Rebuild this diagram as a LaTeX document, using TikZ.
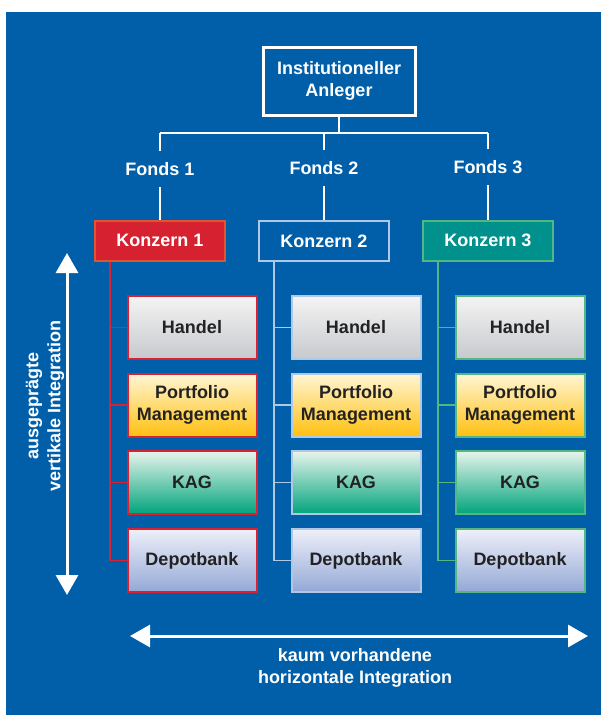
\documentclass[tikz,border=0pt]{standalone}
\usepackage{fontspec}
\setmainfont{Liberation Sans}
\usetikzlibrary{arrows.meta,calc}

\definecolor{bgblue}{HTML}{005FA8}
\definecolor{redfill}{HTML}{D52130}
\definecolor{redrim}{HTML}{E2542E}
\definecolor{redline}{HTML}{D82234}
\definecolor{paleblue}{HTML}{AFC8E6}
\definecolor{tealfill}{HTML}{00918D}
\definecolor{greenrim}{HTML}{55B682}
\definecolor{boxtext}{HTML}{222222}
\definecolor{greytop}{HTML}{F4F4F4}
\definecolor{greymid}{HTML}{DCDCDE}
\definecolor{greybot}{HTML}{C8C9CD}
\definecolor{goldtop}{HTML}{FFF6D6}
\definecolor{goldmid}{HTML}{FFCC30}
\definecolor{goldbot}{HTML}{FFC010}
\definecolor{greentop}{HTML}{E8F4EC}
\definecolor{greenmid}{HTML}{00A47C}
\definecolor{lilactop}{HTML}{EEF0FA}
\definecolor{lilacmid}{HTML}{BCC6E6}
\definecolor{lilacbot}{HTML}{94A8D6}

\begin{document}
\begin{tikzpicture}[x=1pt,y=-1pt,
  every node/.style={font=\fontsize{18}{22}\selectfont\bfseries, align=center},
  wire/.style={draw=white, line width=2pt},
  topbox/.style={draw=white, line width=3pt, minimum width=152pt, minimum height=68pt, text=white},
  fondslabel/.style={text=white, inner sep=0pt, minimum height=36pt, minimum width=70pt},
  konzern/.style={line width=2pt, minimum width=130pt, minimum height=40pt, text=white, inner sep=0pt},
  unit/.style={line width=2pt, minimum width=129pt, minimum height=63pt, text=boxtext, inner sep=0pt, shading=axis},
  handel/.style={unit, top color=greytop, middle color=greymid, bottom color=greybot},
  portfolio/.style={unit, top color=goldtop, middle color=goldmid, bottom color=goldbot},
  kag/.style={unit, top color=greentop, middle color=greenmid, bottom color=greenmid},
  depot/.style={unit, top color=lilactop, middle color=lilacmid, bottom color=lilacbot},
  spine/.style={line width=1.5pt},
  bigarrow/.style={draw=white, line width=3pt, {Triangle[width=22pt,length=20pt]}-{Triangle[width=22pt,length=20pt]}},
  axislabel/.style={text=white, font=\fontsize{18}{22}\selectfont\bfseries}
]
  % page and blue panel
  \useasboundingbox (0,0) rectangle (601,715);
  \fill[white] (0,0) rectangle (601,715);
  \fill[bgblue] (6,12) rectangle (601,715);

  % investor and fund level
  \node[topbox] (top) at (339,81) {Institutioneller\\Anleger};
  \coordinate (hub) at (339,133);
  \coordinate (f1) at (160,133);
  \coordinate (f2) at (324,133);
  \coordinate (f3) at (488,133);
  \node[fondslabel] (fonds1) at (160,169) {Fonds 1};
  \node[fondslabel] (fonds2) at (324,168) {Fonds 2};
  \node[fondslabel] (fonds3) at (488,167) {Fonds 3};

  % groups
  \node[konzern, fill=redfill, draw=redrim] (k1) at (160,240.5) {Konzern 1};
  \node[konzern, fill=bgblue, draw=paleblue] (k2) at (324,241) {Konzern 2};
  \node[konzern, fill=tealfill, draw=greenrim] (k3) at (488,240.5) {Konzern 3};

  \draw[wire] (top.south) -- (hub);
  \draw[wire] (f1) -- (f3);
  \foreach \i in {1,2,3} {
    \draw[wire] (f\i) -- (fonds\i.north);
    \draw[wire] (fonds\i.south) -- (k\i.north);
  }

  % business units per group
  \foreach \c/\rim in {1/redline,2/paleblue,3/greenrim} {
    \pgfmathsetmacro{\cx}{192+164*(\c-1)}
    \node[handel, draw=\rim] (h\c) at (\cx,327.5) {Handel};
    \node[portfolio, draw=\rim] (p\c) at (\cx,405) {Portfolio\\Management};
    \node[kag, draw=\rim] (g\c) at (\cx,482.5) {KAG};
    \node[depot, draw=\rim] (d\c) at (\cx,560.5) {Depotbank};
    \coordinate (s\c) at ($(k\c.south west)+(16,0)$);
    \draw[spine, draw=\rim] (s\c) |- (d\c.west);
    \draw[spine, draw=\rim] (h\c.west) -- (h\c.west -| s\c);
    \draw[spine, draw=\rim] (p\c.west) -- (p\c.west -| s\c);
    \draw[spine, draw=\rim] (g\c.west) -- (g\c.west -| s\c);
  }

  % integration arrows
  \coordinate (vtop) at (67,253);
  \coordinate (vbot) at (67,595);
  \draw[bigarrow] (vtop) -- (vbot);
  \node[axislabel, rotate=90] (vlabel) at (45,406) {ausgeprägte\\vertikale Integration};

  \coordinate (hleft) at (130,636);
  \coordinate (hright) at (588,636);
  \draw[bigarrow] (hleft) -- (hright);
  \node[axislabel] (hlabel) at (355,668) {kaum vorhandene\\horizontale Integration};
\end{tikzpicture}
\end{document}
